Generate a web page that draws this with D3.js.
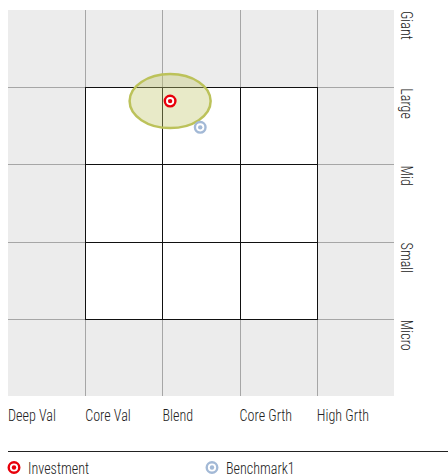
<!DOCTYPE html>
<html>
<head>
<meta charset="utf-8">
<script src="https://cdn.jsdelivr.net/npm/d3@7"></script>
<style>
  body { margin: 0; background: #fff; }
  #chart { width: 448px; height: 474px; }
  text { font-family: "Roboto Condensed", "Liberation Sans Narrow", Roboto, sans-serif; font-weight: 300; fill: #222; }
</style>
</head>
<body>
<div id="chart"></div>
<script>
/* DATA */
const styleLabels = ["Deep Val", "Core Val", "Blend", "Core Grth", "High Grth"];
const sizeLabels = ["Giant", "Large", "Mid", "Small", "Micro"];
const seriesNames = ["Investment", "Benchmark1"];
const styleValues = [2.10, 2.49];   // horizontal position, 0..5
const sizeValues = [3.82, 3.48];    // vertical position, 0..5 (Micro at bottom)
const zoneCenter = [2.10, 3.82];
const zoneRadius = [0.525, 0.35];

/* DIMENSIONS */
const width = 448, height = 474;
const margin = {top: 10, left: 8, right: 54, bottom: 78};
const squeeze = "scale(0.83,1)";

const svg = d3.select("#chart")
    .append("svg")
    .attr("width", width)
    .attr("height", height);

/* SCALES */
const xScale = d3.scaleLinear()
    .domain([0, 5])
    .range([margin.left, width - margin.right]);

const yScale = d3.scaleLinear()
    .domain([0, 5])
    .range([height - margin.bottom, margin.top]);

const colorScale = d3.scaleOrdinal()
    .domain(seriesNames)
    .range(["#e8000b", "#a3b9d6"]);

const cells = d3.range(5);

/* BACKGROUND */
svg.append("rect")
    .attr("x", xScale(0))
    .attr("y", yScale(5))
    .attr("width", xScale(5) - xScale(0))
    .attr("height", yScale(0) - yScale(5))
    .attr("fill", "#ececec");

/* GRID LINES */
svg.selectAll(".vline")
    .data(cells.slice(1))
    .enter()
    .append("line")
        .attr("x1", function(d) { return Math.round(xScale(d)) + 0.5; })
        .attr("x2", function(d) { return Math.round(xScale(d)) + 0.5; })
        .attr("y1", yScale(5))
        .attr("y2", yScale(0))
        .attr("stroke", "#a6a6a6");

svg.selectAll(".hline")
    .data(cells.slice(1))
    .enter()
    .append("line")
        .attr("y1", function(d) { return Math.round(yScale(d)) + 0.5; })
        .attr("y2", function(d) { return Math.round(yScale(d)) + 0.5; })
        .attr("x1", xScale(0))
        .attr("x2", xScale(5))
        .attr("stroke", "#a6a6a6");

/* INNER 3x3 BOX */
const inner = [];
for (let i = 1; i < 4; i++) {
    for (let j = 1; j < 4; j++) inner.push({x: i, y: j});
}

svg.selectAll(".cell")
    .data(inner)
    .enter()
    .append("rect")
        .attr("x", function(d) { return Math.round(xScale(d.x)) + 0.5; })
        .attr("y", function(d) { return Math.round(yScale(d.y + 1)) + 0.5; })
        .attr("width", function(d) { return Math.round(xScale(d.x + 1)) - Math.round(xScale(d.x)); })
        .attr("height", function(d) { return Math.round(yScale(d.y)) - Math.round(yScale(d.y + 1)); })
        .attr("fill", "#fff")
        .attr("stroke", "#111")
        .attr("stroke-width", 1);

/* OWNERSHIP ZONE */
svg.append("ellipse")
    .attr("cx", xScale(zoneCenter[0]))
    .attr("cy", yScale(zoneCenter[1]))
    .attr("rx", xScale(zoneRadius[0]) - xScale(0))
    .attr("ry", yScale(0) - yScale(zoneRadius[1]))
    .attr("fill", "rgba(195,200,110,0.38)")
    .attr("stroke", "#bcc25a")
    .attr("stroke-width", 2.5);

/* POINTS */
const points = seriesNames.map(function(name, i) {
    return {name: name, x: styleValues[i], y: sizeValues[i]};
});

function drawMarker(g, color) {
    g.append("circle").attr("r", 5.3).attr("fill", "#fff")
        .attr("stroke", color).attr("stroke-width", 2.4);
    g.append("circle").attr("r", 2.2).attr("fill", color);
}

points.slice().reverse().forEach(function(d) {
    const g = svg.append("g")
        .attr("transform", `translate(${xScale(d.x)},${yScale(d.y)})`);
    drawMarker(g, colorScale(d.name));
});

/* AXIS LABELS */
svg.selectAll(".styleLabel")
    .data(styleLabels)
    .enter()
    .append("text")
        .attr("transform", function(d, i) { return `translate(${xScale(i)},421) ${squeeze}`; })
        .attr("font-size", 17)
        .text(function(d) { return d; });

svg.selectAll(".sizeLabel")
    .data(sizeLabels)
    .enter()
    .append("text")
        .attr("transform", function(d, i) { return `translate(401,${yScale(5 - i) + 1}) rotate(90) ${squeeze}`; })
        .attr("font-size", 17)
        .text(function(d) { return d; });

/* LEGEND */
svg.append("line")
    .attr("x1", 8).attr("x2", width)
    .attr("y1", 451.5).attr("y2", 451.5)
    .attr("stroke", "#222");

const legendX = [14, 212];
seriesNames.forEach(function(name, i) {
    const g = svg.append("g")
        .attr("transform", `translate(${legendX[i]},467.5)`);
    drawMarker(g, colorScale(name));
    svg.append("text")
        .attr("transform", `translate(${legendX[i] + 14},473.5) ${squeeze}`)
        .attr("font-size", 17)
        .text(name);
});
</script>
</body>
</html>
